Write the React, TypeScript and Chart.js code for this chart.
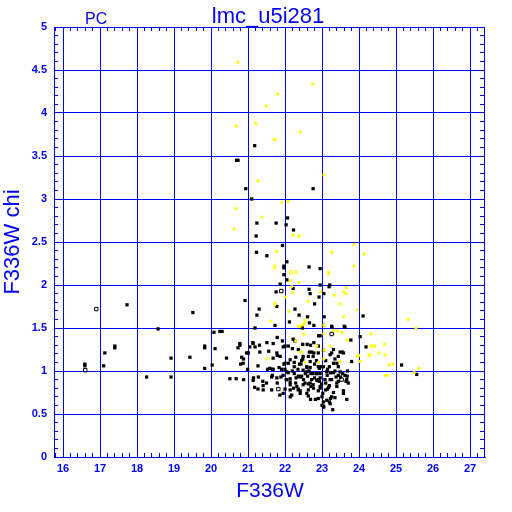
import React, { useEffect, useRef } from "react";
import { Chart, registerables } from "chart.js";

Chart.register(...registerables);

const titleText = "lmc_u5i281";
const cornerText = "PC";
const xTitle = "F336W";
const yTitle = "F336W chi";

const xTickValues = [16, 17, 18, 19, 20, 21, 22, 23, 24, 25, 26, 27];
const yTickValues = [0, 0.5, 1, 1.5, 2, 2.5, 3, 3.5, 4, 4.5, 5];

const blackStars: [number, number][] = [
  [21.18, 3.62], [20.69, 3.45], [20.73, 3.45], [20.94, 3.12], [22.76, 3.12], [21.1, 3.0], [22.07, 2.78],
  [21.24, 2.72], [21.76, 2.72], [22.03, 2.7], [22.23, 2.64], [21.22, 2.57], [21.93, 2.46], [21.23, 2.38],
  [21.51, 2.34], [22.05, 2.27], [21.97, 2.22], [21.97, 2.2], [22.65, 2.21], [22.95, 2.19], [21.97, 2.12],
  [22.05, 2.06], [21.87, 2.01], [22.95, 2.0], [23.21, 2.0], [23.19, 1.98], [22.22, 1.96], [22.65, 1.95],
  [21.76, 1.92], [22.68, 1.9], [23.05, 1.9], [22.92, 1.86], [20.92, 1.82], [22.8, 1.78], [21.78, 1.75],
  [21.3, 1.72], [22.27, 1.72], [19.51, 1.68], [21.24, 1.65], [22.38, 1.65], [22.61, 1.63], [23.06, 1.63],
  [24.11, 1.64], [22.66, 1.56], [22.78, 1.53], [22.47, 1.5], [23.27, 1.51], [23.62, 1.51], [22.95, 1.41],
  [24.03, 1.4], [23.78, 1.36], [24.19, 1.28], [23.8, 1.11], [25.15, 1.07], [25.56, 0.96],
  [17.73, 1.77], [18.57, 1.49], [20.08, 1.45], [20.24, 1.46], [20.3, 1.46], [21.19, 1.5], [19.83, 1.29],
  [19.83, 1.27], [20.11, 1.26], [17.4, 1.29], [17.4, 1.27], [17.13, 1.21], [18.92, 1.15], [19.43, 1.16],
  [20.42, 1.15], [20.73, 1.27], [20.78, 1.3], [21.13, 1.33], [21.19, 1.28], [21.01, 1.21], [21.31, 1.3],
  [20.88, 1.14], [20.8, 1.08], [16.59, 1.08], [16.59, 1.06], [17.1, 1.06], [19.83, 1.03], [20.03, 1.07],
  [18.26, 0.93], [18.92, 0.93], [20.51, 0.91], [20.68, 0.91], [20.88, 0.9], [20.99, 1.02], [21.15, 0.92],
  [21.14, 0.89], [21.27, 1.06], [21.27, 0.79],
  [22.12, 1.57], [23.04, 1.53], [21.73, 1.53], [21.93, 1.35], [22.27, 1.35], [22.48, 1.31], [22.6, 1.31],
  [22.78, 1.33], [22.09, 1.29], [22.9, 1.29], [22.2, 1.26], [22.36, 1.25], [21.95, 1.28], [21.78, 1.21],
  [21.87, 1.17], [22.66, 1.22], [22.72, 1.22], [22.9, 1.21], [22.49, 1.17], [22.63, 1.17], [22.76, 1.17],
  [22.29, 1.16], [22.14, 1.13], [22.68, 1.11], [22.39, 1.08], [22.43, 1.08], [22.0, 1.09], [22.09, 1.09],
  [22.25, 1.05], [22.59, 1.04], [22.68, 1.04], [22.9, 1.05], [22.93, 1.03], [23.04, 1.05], [21.84, 1.04],
  [21.53, 1.02], [21.66, 1.02], [21.91, 1.02], [22.09, 0.98], [22.49, 1.01], [22.59, 0.99], [22.7, 0.97],
  [22.76, 0.97], [22.86, 0.97], [22.25, 0.97], [22.36, 0.94], [22.45, 0.94], [22.61, 0.94], [21.66, 0.95],
  [21.78, 0.92], [21.89, 0.93], [22.03, 0.9], [22.14, 0.87], [22.72, 0.9], [22.86, 0.89], [22.93, 0.88],
  [22.95, 0.92], [22.29, 0.86], [22.54, 0.86], [22.63, 0.85], [22.76, 0.84], [22.0, 0.79], [21.64, 0.78],
  [22.14, 0.78], [22.36, 0.79], [22.41, 0.77], [22.63, 0.78], [22.9, 0.77], [21.86, 0.72], [22.18, 0.72],
  [22.69, 0.67], [22.9, 0.68], [23.05, 0.58],
  [23.26, 1.52], [23.6, 1.52], [23.31, 1.25], [23.26, 1.21], [23.49, 1.22], [23.58, 1.21], [23.55, 1.22],
  [23.22, 1.19], [23.44, 1.17], [23.35, 1.14], [23.31, 1.09], [23.4, 1.09], [23.2, 1.05], [22.99, 1.05],
  [23.44, 1.05], [23.23, 0.98], [23.31, 0.98], [23.49, 0.99], [23.56, 0.97], [23.69, 1.0], [23.14, 0.95],
  [23.38, 0.93], [23.44, 0.95], [23.62, 0.95], [23.68, 0.94], [23.08, 0.9], [23.26, 0.9], [23.65, 0.88],
  [23.71, 0.86], [23.44, 0.88], [22.99, 0.85], [23.2, 0.83], [23.4, 0.82], [23.15, 0.79], [23.18, 0.81],
  [23.58, 0.77], [23.02, 0.74], [23.31, 0.75], [23.26, 0.7], [23.35, 0.69], [23.67, 0.67], [23.04, 0.64],
  [23.22, 0.62], [23.29, 0.55],
  [20.83, 1.16], [20.87, 1.09], [21.14, 1.32], [21.28, 0.93], [21.4, 0.88], [21.41, 0.83], [21.18, 0.81],
  [21.32, 1.22], [21.51, 1.33], [21.56, 1.23], [21.59, 1.03], [21.68, 1.02], [21.68, 1.15], [21.79, 1.18],
  [21.97, 1.08], [22.05, 0.99], [22.14, 0.91], [22.14, 0.84], [22.23, 0.8], [22.36, 0.78], [22.41, 0.74],
  [22.49, 0.84], [22.63, 0.71], [22.77, 0.8], [22.9, 0.9], [22.95, 0.8], [23.0, 0.6], [23.0, 0.7],
  [23.1, 0.78], [23.23, 0.68], [23.2, 0.64],
  [22.0, 1.29], [22.22, 1.37], [22.69, 1.3], [22.91, 1.41], [22.78, 1.21], [23.04, 1.24], [22.48, 1.14],
  [22.59, 1.05], [22.86, 0.97], [23.13, 0.99], [23.4, 0.86], [23.58, 0.74], [23.67, 0.9], [23.13, 0.66],
  [22.82, 0.67], [22.59, 0.74], [22.32, 0.82], [22.14, 0.7], [21.95, 0.74], [21.79, 0.86], [21.64, 0.93],
  [21.5, 0.86], [21.41, 0.78], [22.05, 0.9], [22.41, 0.93], [22.68, 0.86], [22.95, 0.82], [23.22, 0.9],
  [23.04, 0.59], [21.68, 1.32], [21.79, 1.39], [20.96, 1.21], [20.78, 1.32], [21.05, 1.28],
  [22.2, 1.0], [22.3, 0.92], [22.45, 1.12], [22.55, 0.97], [22.65, 1.0], [22.8, 1.08], [22.8, 0.92],
  [22.95, 0.97], [22.35, 1.02], [22.5, 0.9], [22.7, 0.82], [22.85, 1.12], [23.1, 1.12], [23.15, 1.02],
  [23.35, 1.0], [23.5, 0.93], [23.1, 0.86], [22.25, 1.1], [22.0, 1.02], [21.95, 0.95],
];

const yellowStars: [number, number][] = [
  [20.72, 4.59], [22.75, 4.34], [21.8, 4.22], [21.49, 4.08], [20.69, 3.85], [21.21, 3.88], [22.42, 3.78],
  [21.71, 3.69], [21.73, 3.69], [21.27, 3.21], [23.05, 3.28], [21.92, 2.96], [22.08, 2.97], [20.68, 2.89],
  [21.37, 2.79], [20.62, 2.65], [22.21, 2.58], [22.36, 2.57], [22.38, 2.57], [21.78, 2.39], [23.27, 2.38],
  [21.72, 2.22], [21.72, 2.2], [22.29, 2.15], [23.18, 2.15], [23.18, 2.13], [22.15, 2.05], [22.37, 2.03],
  [22.18, 1.98], [22.21, 1.91], [22.96, 1.92], [23.33, 1.88], [22.01, 1.86], [22.63, 1.81], [21.72, 1.79],
  [21.72, 1.77], [23.48, 1.78], [22.1, 1.69], [23.86, 2.47], [24.14, 2.36], [23.86, 2.22], [23.65, 1.97],
  [23.59, 1.92], [23.65, 1.9], [23.95, 1.71], [23.58, 1.63], [25.33, 1.6], [25.54, 1.5], [22.54, 1.59],
  [22.52, 1.55], [23.05, 1.53], [23.31, 1.47], [23.42, 1.47], [23.54, 1.45], [22.51, 1.43], [23.05, 1.43],
  [24.32, 1.43], [23.68, 1.36], [24.69, 1.31], [24.32, 1.29], [24.38, 1.29], [24.42, 1.29], [24.54, 1.21],
  [24.71, 1.19], [24.27, 1.18], [24.29, 1.19], [23.95, 1.17], [23.99, 1.18], [24.03, 1.11], [24.81, 1.07],
  [24.92, 1.08], [25.61, 1.03], [25.49, 0.98], [24.71, 0.95], [24.76, 0.95], [21.62, 1.58], [22.36, 1.52],
  [22.41, 1.52], [22.49, 1.54], [22.86, 1.29], [22.41, 1.22], [22.44, 1.22], [21.51, 1.14], [22.54, 1.1],
  [23.22, 1.29], [23.06, 1.24], [23.05, 1.14], [22.29, 1.35], [22.91, 1.1], [23.49, 1.11],
];

const openBlackStars: [number, number][] = [
  [16.9, 1.72], [16.6, 1.01], [21.9, 1.93], [21.82, 0.79], [23.26, 1.43], [23.53, 0.9],
];

const openYellowStars: [number, number][] = [[22.17, 2.15]];

const BLUE = "#0000ff";

export default function App() {
  const ref = useRef<HTMLCanvasElement>(null);

  useEffect(() => {
    document.body.style.margin = "0";
    const canvas = ref.current;
    if (!canvas) return;
    const toPts = (a: [number, number][]) => a.map(([x, y]) => ({ x, y }));

    const overlay = {
      id: "overlay",
      afterDraw(chart: any) {
        const ctx = chart.ctx as CanvasRenderingContext2D;
        const { left, right, top, bottom } = chart.chartArea;
        const xs = chart.scales.x;
        const ys = chart.scales.y;
        ctx.save();
        ctx.strokeStyle = BLUE;
        ctx.lineWidth = 1;
        ctx.beginPath();
        ctx.rect(Math.round(left) + 0.5, Math.round(top) + 0.5, Math.round(right) - 1 - Math.round(left), Math.round(bottom) - Math.round(top));
        for (let i = 79; i <= 136; i++) {
          if (i % 5 === 0) continue;
          const v = i / 5;
          const px = Math.round(xs.getPixelForValue(v) - 0.5) + 0.5;
          ctx.moveTo(px, bottom);
          ctx.lineTo(px, bottom - 4);
          ctx.moveTo(px, top);
          ctx.lineTo(px, top + 4);
        }
        for (let i = 1; i < 50; i++) {
          if (i % 5 === 0) continue;
          const v = i / 10;
          const py = Math.round(ys.getPixelForValue(v) - 0.5) + 0.5;
          ctx.moveTo(left, py);
          ctx.lineTo(left + 4, py);
          ctx.moveTo(right - 1, py);
          ctx.lineTo(right - 5, py);
        }
        ctx.stroke();

        ctx.fillStyle = BLUE;
        ctx.textBaseline = "alphabetic";
        ctx.textAlign = "center";
        ctx.font = "22px 'Liberation Sans'";
        ctx.fillText(titleText, 268, 22.5);
        ctx.textAlign = "left";
        ctx.font = "16px 'Liberation Sans'";
        ctx.fillText(cornerText, 85, 24);
        ctx.textAlign = "center";
        ctx.font = "21px 'Liberation Sans'";
        ctx.fillText(xTitle, 270, 497);
        ctx.save();
        ctx.translate(19, 242);
        ctx.rotate(-Math.PI / 2);
        ctx.font = "22px 'Liberation Sans'";
        ctx.fillText(yTitle, 0, 0);
        ctx.restore();
        ctx.restore();
      },
    };

    const tickFont = { family: "'Liberation Sans'", size: 11, weight: "bold" as const };

    const chart = new Chart(canvas, {
      type: "scatter",
      data: {
        datasets: [
          {
            data: toPts(openYellowStars),
            pointStyle: "rect",
            pointRadius: 2.4,
            backgroundColor: "rgba(0,0,0,0)",
            borderColor: "#ffff00",
            borderWidth: 1,
          },
          {
            data: toPts(yellowStars),
            pointStyle: "rect",
            pointRadius: 2.0,
            backgroundColor: "#ffff00",
            borderWidth: 0,
          },
          {
            data: toPts(openBlackStars),
            pointStyle: "rect",
            pointRadius: 2.4,
            backgroundColor: "rgba(0,0,0,0)",
            borderColor: "#000000",
            borderWidth: 1,
          },
          {
            data: toPts(blackStars),
            pointStyle: "rect",
            pointRadius: 2.3,
            backgroundColor: "#000000",
            borderWidth: 0,
          },
        ],
      },
      options: {
        responsive: false,
        animation: false,
        events: [],
        layout: { padding: { left: 0, right: 27, top: 27, bottom: 0 } },
        plugins: { legend: { display: false }, tooltip: { enabled: false }, title: { display: false } },
        scales: {
          x: {
            type: "linear",
            min: 16 - 9 / 37,
            max: 16 + (485 - 63) / 37,
            afterBuildTicks: (s: any) => {
              s.ticks = xTickValues.map((v) => ({ value: v }));
            },
            afterFit: (s: any) => {
              s.height = 55;
            },
            grid: { color: BLUE, lineWidth: 1, drawTicks: false },
            border: { color: BLUE, width: 1 },
            ticks: {
              color: BLUE,
              font: tickFont,
              padding: 5,
              maxRotation: 0,
              autoSkip: false,
              callback: (v: any) => String(v),
            },
          },
          y: {
            type: "linear",
            min: 0,
            max: 5,
            afterBuildTicks: (s: any) => {
              s.ticks = yTickValues.map((v) => ({ value: v }));
            },
            afterFit: (s: any) => {
              s.width = 54;
            },
            grid: { color: BLUE, lineWidth: 1, drawTicks: false },
            border: { color: BLUE, width: 1 },
            ticks: {
              color: BLUE,
              font: tickFont,
              padding: 7,
              autoSkip: false,
              callback: (v: any) => String(v),
            },
          },
        },
      },
      plugins: [overlay],
    });
    return () => chart.destroy();
  }, []);

  return <canvas ref={ref} width={512} height={512} style={{ display: "block", background: "#ffffff" }} />;
}
